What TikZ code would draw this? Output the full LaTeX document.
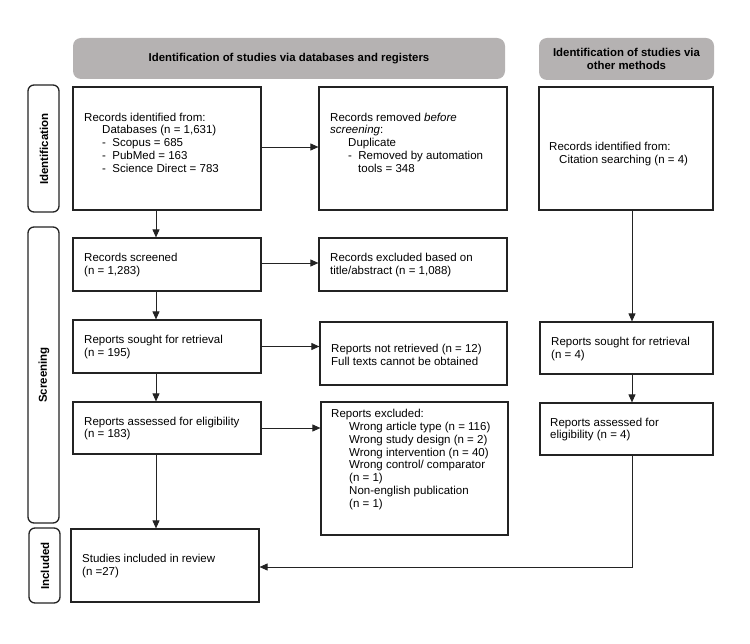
\documentclass[tikz,border=0pt]{standalone}
\usepackage{fontspec}
\setmainfont{Liberation Sans}
\usetikzlibrary{arrows.meta}
\definecolor{hdrgray}{RGB}{181,178,178}
\definecolor{lnc}{RGB}{35,35,35}
\begin{document}
\begin{tikzpicture}[x=1pt,y=-1pt,
  box/.style={draw=lnc,line width=1.2pt,inner sep=0pt,rectangle},
  txt/.style={anchor=west,align=left,inner sep=0pt,font=\fontsize{11.5}{12.8}\selectfont},
  hdr/.style={fill=hdrgray,rounded corners=8pt,inner sep=0pt,align=center,font=\fontsize{11.4}{12.8}\selectfont\bfseries},
  side/.style={draw=lnc,line width=1.3pt,rounded corners=6pt,inner sep=0pt},
  sidetxt/.style={rotate=90,font=\fontsize{11.5}{13}\selectfont\bfseries,inner sep=0pt},
  arr/.style={draw=lnc,line width=0.9pt,-{Triangle[length=8pt,width=7pt]}}]
\useasboundingbox (0,0) rectangle (750,644);
% headers
\node[hdr,minimum width=432pt,minimum height=41pt] (h1) at (289,58.5) {Identification of studies via databases and registers};
\node[hdr,minimum width=175pt,minimum height=42pt] (h2) at (626.5,59) {Identification of studies via\\other methods};
% side labels
\node[side,minimum width=31pt,minimum height=127pt] (s1) at (43.5,148.5) {};
\node[sidetxt] (s1t) at (44,149) {Identification};
\node[side,minimum width=31pt,minimum height=296pt] (s2) at (43.5,375) {};
\node[sidetxt] (s2t) at (44,375) {Screening};
\node[side,minimum width=31pt,minimum height=75pt] (s3) at (44.5,565.5) {};
\node[sidetxt] (s3t) at (45,566) {Included};
% boxes
\node[box,minimum width=188pt,minimum height=123pt] (A) at (167,148.5) {};
\node[box,minimum width=188pt,minimum height=123pt] (B) at (413,148.5) {};
\node[box,minimum width=174pt,minimum height=123pt] (C) at (626,148.5) {};
\node[box,minimum width=188pt,minimum height=53pt] (D) at (167,264.5) {};
\node[box,minimum width=188pt,minimum height=53pt] (E) at (413,264.5) {};
\node[box,minimum width=188pt,minimum height=53pt] (F) at (167,346.5) {};
\node[box,minimum width=187pt,minimum height=63pt] (G) at (413.5,353.5) {};
\node[box,minimum width=173pt,minimum height=52pt] (H) at (626.5,348) {};
\node[box,minimum width=188pt,minimum height=52pt] (I) at (167,428) {};
\node[box,minimum width=187pt,minimum height=133pt] (J) at (414.5,468.5) {};
\node[box,minimum width=173pt,minimum height=52pt] (K) at (626.5,429) {};
\node[box,minimum width=188pt,minimum height=73pt] (L) at (165,565.5) {};
% texts
\node[txt] (At) at (84,142.5) {Records identified from:\\
\hspace*{18pt}Databases (n = 1,631)\\
\hspace*{18pt}-\ \ Scopus = 685\\
\hspace*{18pt}-\ \ PubMed = 163\\
\hspace*{18pt}-\ \ Science Direct = 783};
\node[txt] (Bt) at (330,142.5) {Records removed \textit{before}\\
\textit{screening}:\\
\hspace*{18pt}Duplicate\\
\hspace*{18pt}-\ \ Removed by automation\\
\hspace*{28pt}tools = 348};
\node[txt] (Ct) at (549,154) {Records identified from:\\
\hspace*{10pt}Citation searching (n = 4)};
\node[txt] (Dt) at (84,265) {Records screened\\(n = 1,283)};
\node[txt] (Et) at (330,265) {Records excluded based on\\title/abstract (n = 1,088)};
\node[txt] (Ft) at (84,347) {Reports sought for retrieval\\(n = 195)};
\node[txt] (Gt) at (331,354.5) {Reports not retrieved (n = 12)\\Full texts cannot be obtained};
\node[txt] (Ht) at (551,349) {Reports sought for retrieval\\(n = 4)};
\node[txt] (It) at (84,428.5) {Reports assessed for eligibility\\(n = 183)};
\node[txt] (Jt) at (331,459.5) {Reports excluded:\\
\hspace*{18pt}Wrong article type (n = 116)\\
\hspace*{18pt}Wrong study design (n = 2)\\
\hspace*{18pt}Wrong intervention (n = 40)\\
\hspace*{18pt}Wrong control/ comparator\\
\hspace*{18pt}(n = 1)\\
\hspace*{18pt}Non-english publication\\
\hspace*{18pt}(n = 1)};
\node[txt] (Kt) at (550,429.5) {Reports assessed for\\eligibility (n = 4)};
\node[txt] (Lt) at (82,566) {Studies included in review\\(n =27)};
% connectors
\coordinate (lx) at (156,0);
\coordinate (rx) at (632,0);
\draw[arr] (A.south -| lx) -- (D.north -| lx);
\draw[arr] (D.south -| lx) -- (F.north -| lx);
\draw[arr] (F.south -| lx) -- (I.north -| lx);
\draw[arr] (I.south -| lx) -- (L.north -| lx);
\draw[arr] ([yshift=1.5pt]A.east) -- ([yshift=1.5pt]B.west);
\draw[arr] ([yshift=1.5pt]D.east) -- ([yshift=1.5pt]E.west);
\draw[arr] (F.east) -- (G.west |- F.east);
\draw[arr] (I.east) -- (J.west |- I.east);
\draw[arr] (C.south -| rx) -- (H.north -| rx);
\draw[arr] (H.south -| rx) -- (K.north -| rx);
\draw[arr] (K.south -| rx) |- ([yshift=-1.5pt]L.east);
\end{tikzpicture}
\end{document}
